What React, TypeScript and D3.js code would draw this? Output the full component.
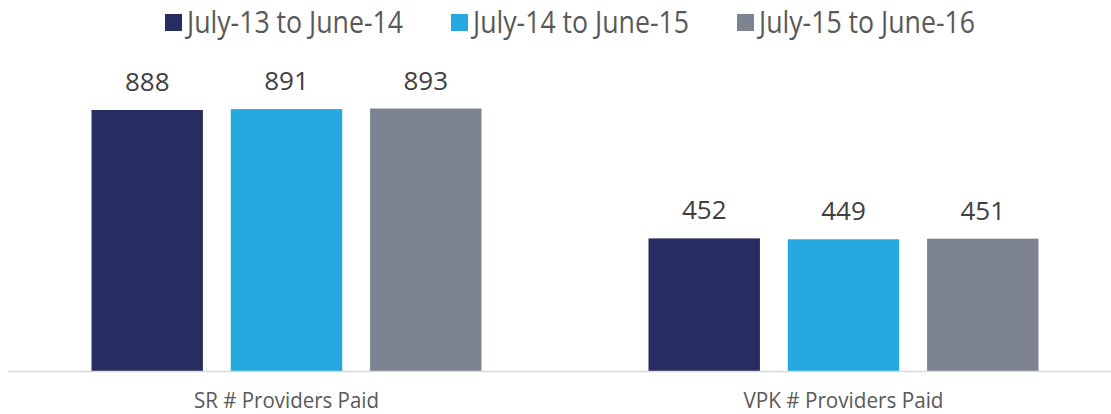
import React from "react";
import * as d3 from "d3";

const categories = ["SR # Providers Paid", "VPK # Providers Paid"];
const seriesNames = ["July-13 to June-14", "July-14 to June-15", "July-15 to June-16"];
const series1 = [888, 452];
const series2 = [891, 449];
const series3 = [893, 451];
const seriesValues = [series1, series2, series3];
const colors = ["#272C61", "#25A9E0", "#7E8392"];

const W = 1111;
const H = 414;
const baseline = 371.5;
const font = "'Open Sans', 'Noto Sans', sans-serif";

export default function App() {
  const x0 = d3.scaleBand<string>().domain(categories).range([8, 1122]).padding(0);
  const groupWidth = 390;
  const x1 = d3
    .scaleBand<string>()
    .domain(seriesNames)
    .range([0, groupWidth])
    .paddingInner(0.2)
    .paddingOuter(0);
  const y = d3.scaleLinear().domain([0, 1000]).range([baseline, baseline - 294.5]);
  const groupOffset = (x0.bandwidth() - groupWidth) / 2;

  const legendX = d3.scalePoint<string>().domain(seriesNames).range([165, 737]);

  return (
    <svg
      width={W}
      height={H}
      style={{ position: "absolute", left: 0, top: 0, background: "#fff" }}
    >
      {/* legend */}
      {seriesNames.map((s, i) => (
        <g key={s} transform={`translate(${legendX(s)},0)`}>
          <rect x={0} y={14} width={17} height={17} fill={colors[i]} />
          <text
            x={22}
            y={33}
            fontFamily={font}
            fontSize={31}
            fill="#595959"
            textLength={216}
            lengthAdjust="spacingAndGlyphs"
          >
            {s}
          </text>
        </g>
      ))}

      {/* bars */}
      {categories.map((c, ci) => (
        <g key={c} transform={`translate(${(x0(c) ?? 0) + groupOffset},0)`}>
          {seriesNames.map((s, si) => {
            const v = seriesValues[si][ci];
            const bx = x1(s) ?? 0;
            return (
              <g key={s}>
                <rect
                  x={bx}
                  y={y(v)}
                  width={x1.bandwidth()}
                  height={baseline - y(v)}
                  fill={colors[si]}
                />
                <text
                  x={bx + x1.bandwidth() / 2}
                  y={y(v) - 19}
                  textAnchor="middle"
                  fontFamily={font}
                  fontSize={26}
                  fill="#404040"
                >
                  {v}
                </text>
              </g>
            );
          })}
        </g>
      ))}

      {/* axis */}
      <line x1={8} x2={W} y1={baseline} y2={baseline} stroke="#D9D9D9" strokeWidth={1.5} />
      {categories.map((c, ci) => (
        <text
          key={c}
          x={(x0(c) ?? 0) + x0.bandwidth() / 2}
          y={408}
          textAnchor="middle"
          fontFamily={font}
          fontSize={22}
          fill="#595959"
          textLength={ci === 0 ? 185 : 200}
          lengthAdjust="spacingAndGlyphs"
        >
          {c}
        </text>
      ))}
    </svg>
  );
}
